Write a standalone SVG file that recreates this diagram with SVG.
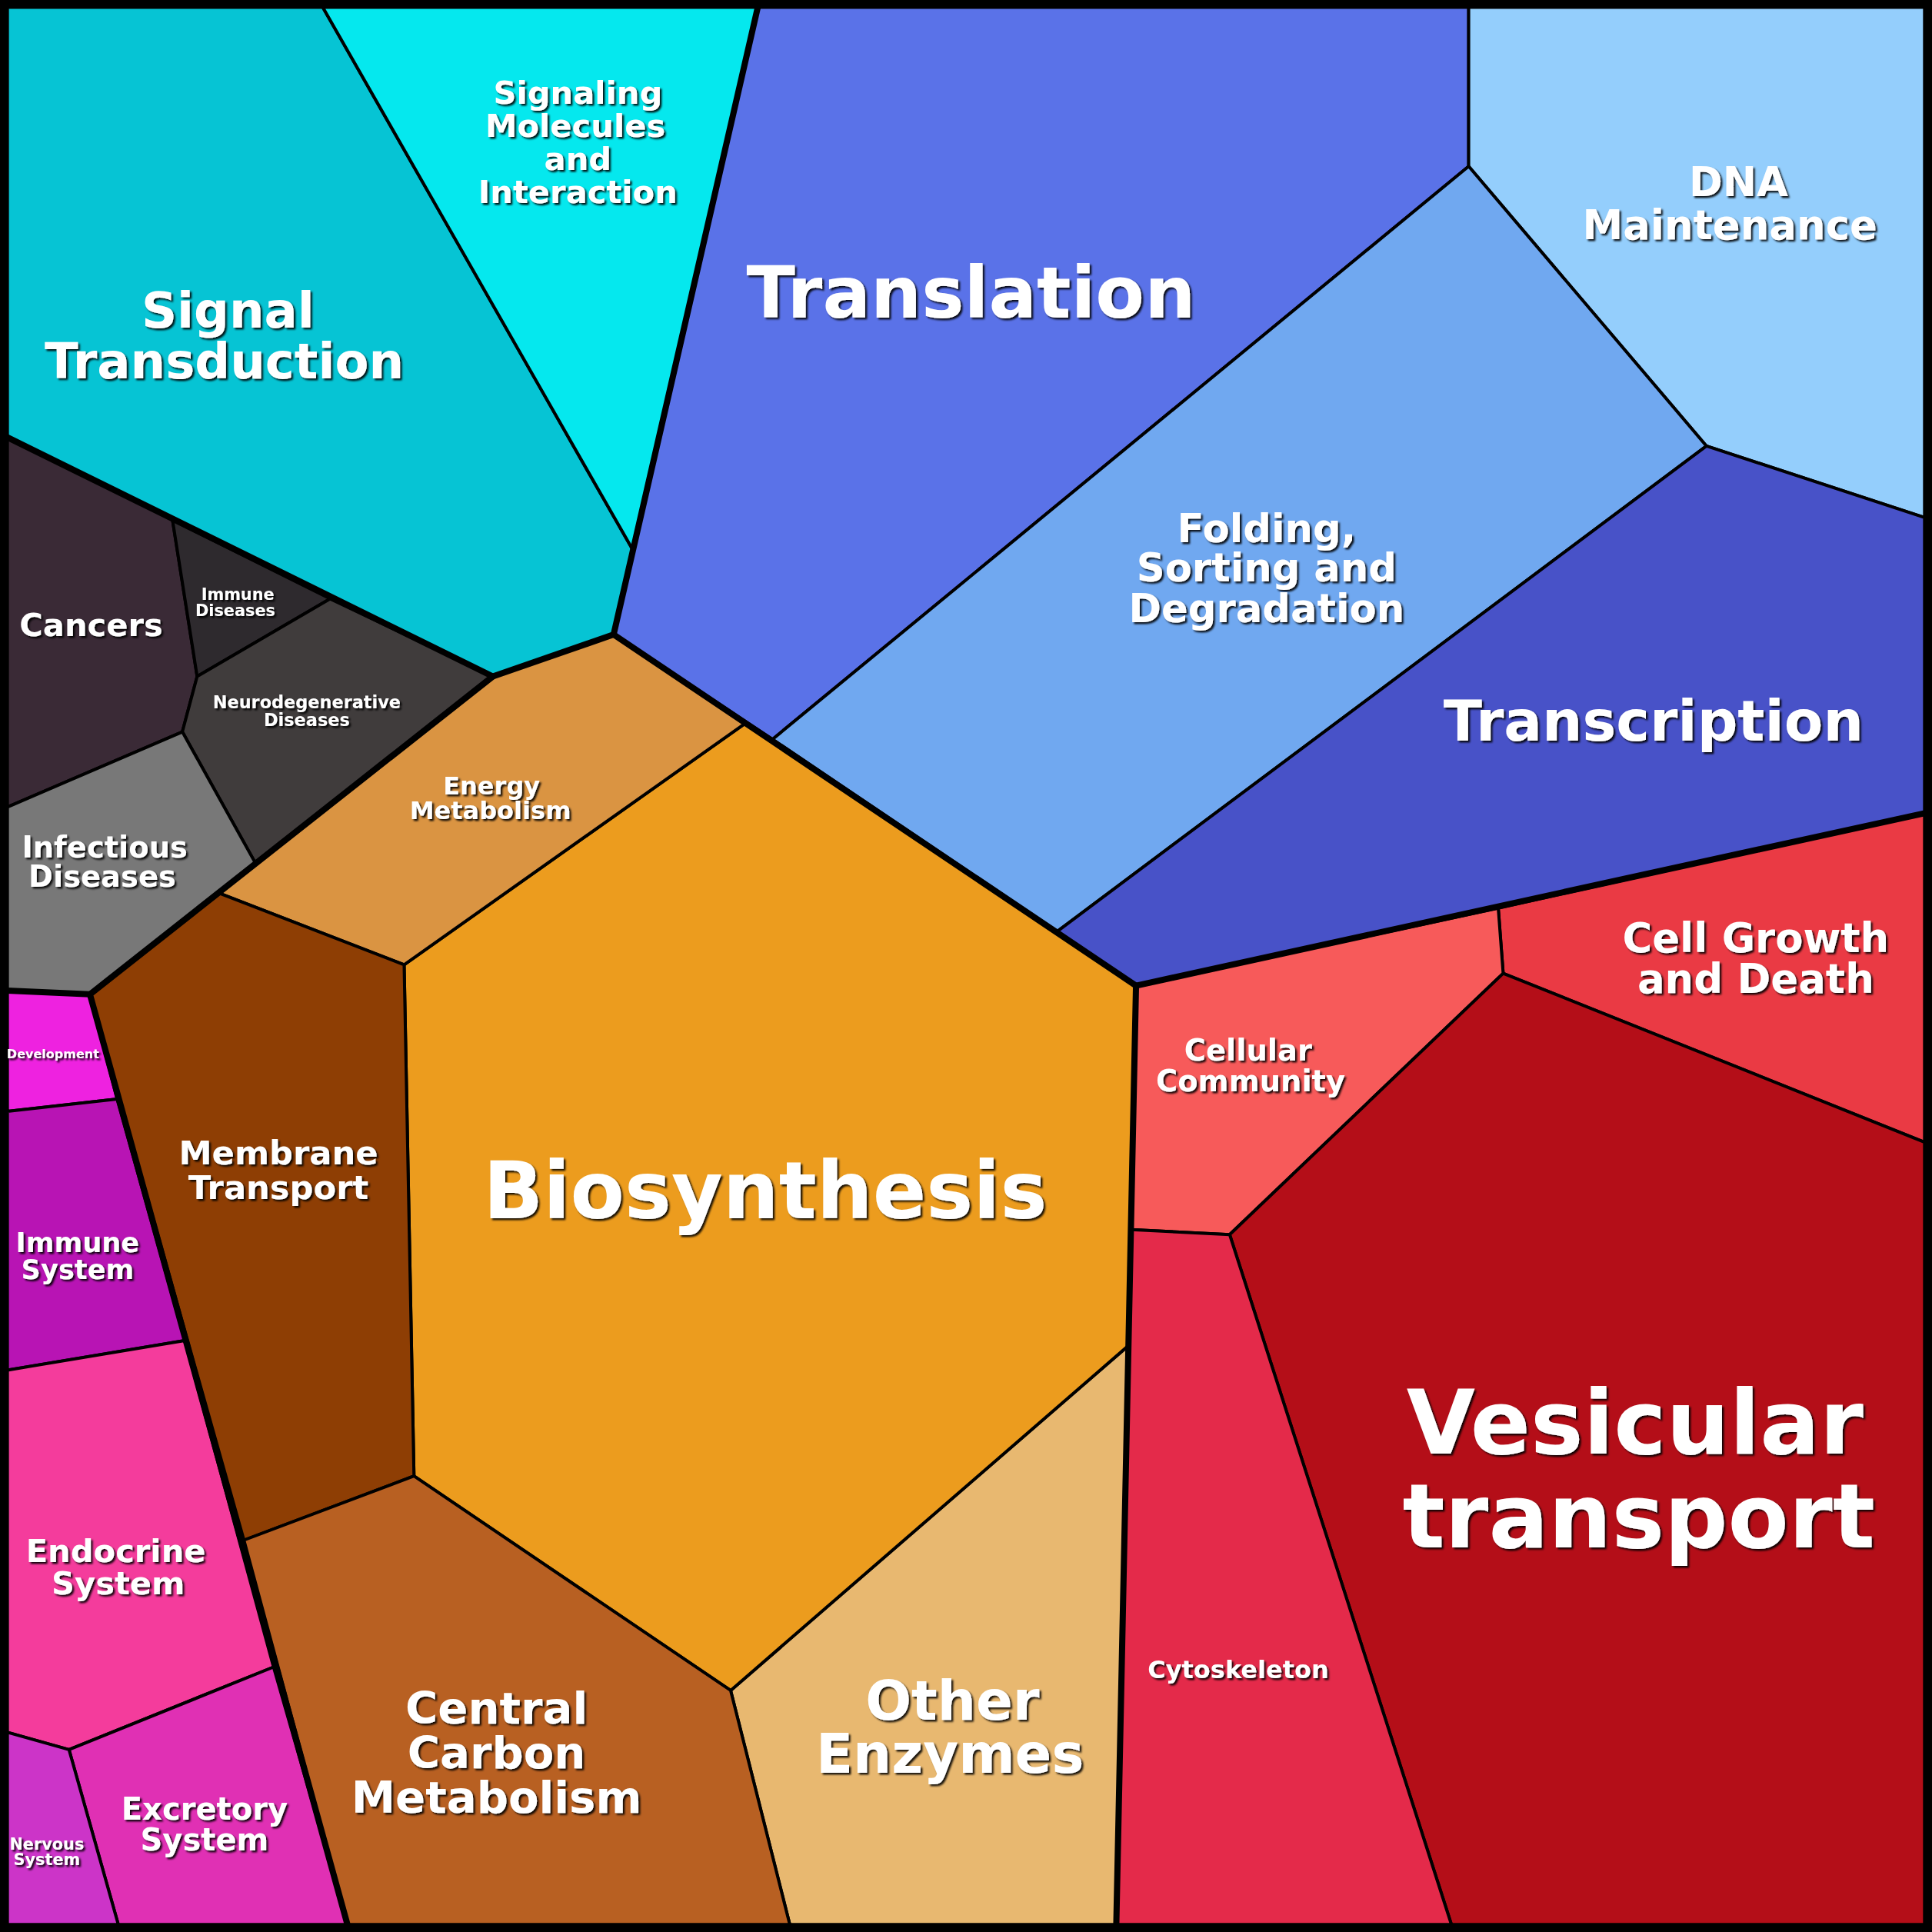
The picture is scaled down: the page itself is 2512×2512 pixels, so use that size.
<svg xmlns="http://www.w3.org/2000/svg" width="2512" height="2512" viewBox="0 0 2512 2512">
<defs>
<style>
.c{stroke:#000;stroke-width:2.5;stroke-linejoin:round}
.t{fill:#fff;font-family:"DejaVu Sans",sans-serif;font-weight:bold;text-anchor:middle;filter:url(#sh)}
.k{fill:none;stroke:#000;stroke-width:5;stroke-linejoin:round;stroke-linecap:round}
</style>
<filter id="sh" x="-10%" y="-10%" width="130%" height="130%"><feDropShadow dx="1.5" dy="1.5" stdDeviation="0.6" flood-color="#000" flood-opacity="0.9"/></filter>
</defs>
<rect width="2512" height="2512" fill="#000"/>
<g transform="scale(1.602)">
<g id="signal-transduction"><polygon class="c" fill="#06c4d4" points="6,6 262,6 514,447 498,515 400,549 268,486 140,422 6,355"/><text class="t" font-size="40"><tspan x="185" y="266">Signal</tspan><tspan x="182" y="307">Transduction</tspan></text></g>
<g id="signaling-molecules"><polygon class="c" fill="#05e8ee" points="262,6 615,6 514,447"/><text class="t" font-size="26"><tspan x="469" y="84">Signaling</tspan><tspan x="467" y="111">Molecules</tspan><tspan x="469" y="138">and</tspan><tspan x="469" y="165">Interaction</tspan></text></g>
<g id="translation"><polygon class="c" fill="#5a72e8" points="615,6 1192,6 1192,135 627,600 498,515 514,447"/><text class="t" font-size="58" x="788" y="258">Translation</text></g>
<g id="dna-maintenance"><polygon class="c" fill="#94cefc" points="1192,6 1562,6 1562,420 1385,362 1192,135"/><text class="t" font-size="33"><tspan x="1411" y="159">DNA</tspan><tspan x="1404" y="194">Maintenance</tspan></text></g>
<g id="folding"><polygon class="c" fill="#70a8f0" points="1192,135 1385,362 858,756 627,600"/><text class="t" font-size="32"><tspan x="1028" y="440">Folding,</tspan><tspan x="1028" y="472">Sorting and</tspan><tspan x="1028" y="505">Degradation</tspan></text></g>
<g id="transcription"><polygon class="c" fill="#4852c8" points="1385,362 1562,420 1562,660 922,800 858,756"/><text class="t" font-size="46" x="1342" y="601">Transcription</text></g>
<g id="cell-growth"><polygon class="c" fill="#ea3a44" points="1216,737 1562,660 1562,927 1220,790"/><text class="t" font-size="33"><tspan x="1425" y="773">Cell Growth</tspan><tspan x="1425" y="806">and Death</tspan></text></g>
<g id="cellular-community"><polygon class="c" fill="#f75a5a" points="922,800 1216,737 1220,790 998,1002 918,998"/><text class="t" font-size="24"><tspan x="1013" y="861">Cellular</tspan><tspan x="1015" y="886">Community</tspan></text></g>
<g id="vesicular-transport"><polygon class="c" fill="#b40e18" points="1220,790 1562,927 1562,1562 1178,1562 998,1002"/><text class="t" font-size="72"><tspan x="1327" y="1180">Vesicular</tspan><tspan x="1330" y="1256">transport</tspan></text></g>
<g id="cytoskeleton"><polygon class="c" fill="#e42a4a" points="918,998 998,1002 1178,1562 906,1562 916,1092"/><text class="t" font-size="20" x="1005" y="1362">Cytoskeleton</text></g>
<g id="other-enzymes"><polygon class="c" fill="#e8b870" points="916,1092 906,1562 641,1562 593,1372"/><text class="t" font-size="44"><tspan x="773" y="1396">Other</tspan><tspan x="771" y="1439">Enzymes</tspan></text></g>
<g id="biosynthesis"><polygon class="c" fill="#ec9c1e" points="605,587 922,800 916,1092 593,1372 336,1198 328,783"/><text class="t" font-size="64" x="621" y="989">Biosynthesis</text></g>
<g id="energy-metabolism"><polygon class="c" fill="#da9442" points="400,549 498,515 605,587 328,783 178,725 207,700"/><text class="t" font-size="20"><tspan x="399" y="645">Energy</tspan><tspan x="398" y="665">Metabolism</tspan></text></g>
<g id="membrane-transport"><polygon class="c" fill="#8e3e04" points="178,725 328,783 336,1198 198,1250 73,807"/><text class="t" font-size="27"><tspan x="226" y="945">Membrane</tspan><tspan x="226" y="973">Transport</tspan></text></g>
<g id="central-carbon"><polygon class="c" fill="#b86022" points="336,1198 593,1372 641,1562 282,1562 198,1250"/><text class="t" font-size="36"><tspan x="403" y="1399">Central</tspan><tspan x="403" y="1435">Carbon</tspan><tspan x="403" y="1471">Metabolism</tspan></text></g>
<g id="cancers"><polygon class="c" fill="#3a2a36" points="6,355 140,422 160,549 148,594 6,655"/><text class="t" font-size="26" x="74" y="516">Cancers</text></g>
<g id="immune-diseases"><polygon class="c" fill="#2e2a2e" points="140,422 268,486 160,549"/><text class="t" font-size="13"><tspan x="193" y="487">Immune</tspan><tspan x="191" y="500">Diseases</tspan></text></g>
<g id="neurodegenerative"><polygon class="c" fill="#403c3c" points="268,486 400,549 207,700 148,594 160,549"/><text class="t" font-size="14"><tspan x="249" y="575">Neurodegenerative</tspan><tspan x="249" y="589">Diseases</tspan></text></g>
<g id="infectious"><polygon class="c" fill="#787878" points="6,655 148,594 207,700 178,725 73,807 6,804"/><text class="t" font-size="24"><tspan x="85" y="696">Infectious</tspan><tspan x="83" y="720">Diseases</tspan></text></g>
<g id="development"><polygon class="c" fill="#ee22e0" points="6,804 73,807 95,892 6,902"/><text class="t" font-size="10" x="43" y="859">Development</text></g>
<g id="immune-system"><polygon class="c" fill="#b814b4" points="6,902 95,892 150,1088 6,1112"/><text class="t" font-size="22"><tspan x="63" y="1016">Immune</tspan><tspan x="63" y="1038">System</tspan></text></g>
<g id="endocrine"><polygon class="c" fill="#f43c9c" points="6,1112 150,1088 222,1353 56,1420 6,1406"/><text class="t" font-size="26"><tspan x="94" y="1268">Endocrine</tspan><tspan x="96" y="1294">System</tspan></text></g>
<g id="excretory"><polygon class="c" fill="#e030b4" points="56,1420 222,1353 282,1562 96,1562"/><text class="t" font-size="25"><tspan x="166" y="1477">Excretory</tspan><tspan x="166" y="1502">System</tspan></text></g>
<g id="nervous"><polygon class="c" fill="#cc34c8" points="6,1406 56,1420 96,1562 6,1562"/><text class="t" font-size="13"><tspan x="38" y="1501">Nervous</tspan><tspan x="38" y="1514">System</tspan></text></g>
<g id="connectors">
<polyline class="k" points="6,355 400,549 498,515 615,6"/>
<polyline class="k" points="498,515 922,800 1562,660"/>
<polyline class="k" points="922,800 906,1562"/>
<polyline class="k" points="400,549 73,807 282,1562"/>
<polyline class="k" points="6,804 73,807"/>
<rect x="3" y="3" width="1562" height="1562" fill="none" stroke="#000" stroke-width="6"/>
</g>
</g>
</svg>
